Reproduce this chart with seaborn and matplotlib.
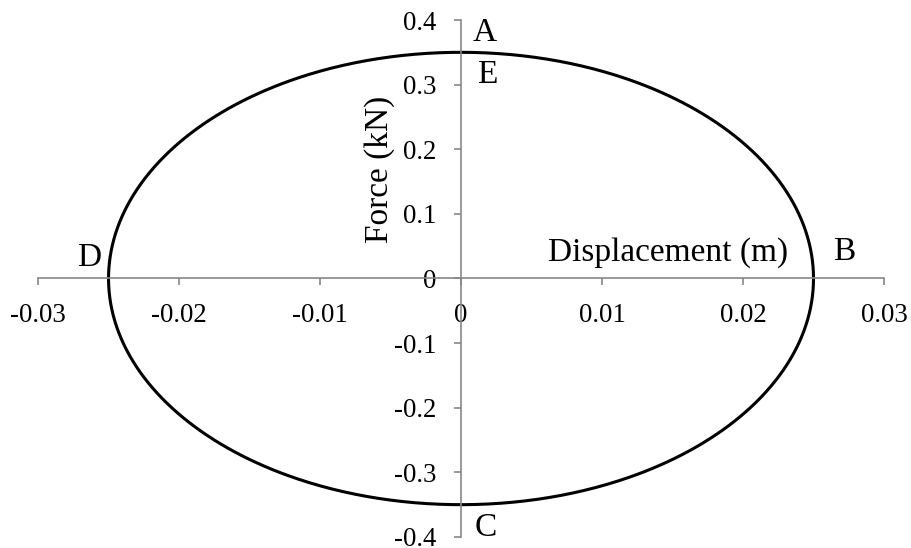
import numpy as np
import pandas as pd
import matplotlib
matplotlib.use("Agg")
import matplotlib.pyplot as plt
import seaborn as sns

# Loop amplitudes
disp_amplitude = 0.025   # m
force_amplitude = 0.35   # kN

x_ticks = [-0.03, -0.02, -0.01, 0, 0.01, 0.02, 0.03]
x_tick_labels = ["-0.03", "-0.02", "-0.01", "0", "0.01", "0.02", "0.03"]
y_ticks = [-0.4, -0.3, -0.2, -0.1, 0, 0.1, 0.2, 0.3, 0.4]
y_tick_labels = ["-0.4", "-0.3", "-0.2", "-0.1", "0", "0.1", "0.2", "0.3", "0.4"]

# Point markers around the loop (left edge / baseline of each letter)
point_labels = ["A", "E", "B", "C", "D"]
point_x = [0.00085, 0.00113, 0.02638, 0.0010, -0.02723]
point_y = [0.368, 0.303, 0.0279, -0.399, 0.0186]

# Closed force-displacement loop
theta = np.linspace(0, 2 * np.pi, 721)
loop = pd.DataFrame({
    "Displacement": disp_amplitude * np.sin(theta),
    "Force": force_amplitude * np.cos(theta),
})

sns.set_style("white")
plt.rcParams["font.family"] = ["Liberation Serif", "DejaVu Serif"]
plt.rcParams["text.color"] = "black"

fig = plt.figure(figsize=(9.12, 5.48), dpi=100)
ax = fig.add_axes([0.0417, 0.0201, 0.9276, 0.9434])

sns.lineplot(data=loop, x="Displacement", y="Force", sort=False,
             color="black", linewidth=2.2, ax=ax, estimator=None)

ax.set_xlim(-0.03, 0.03)
ax.set_ylim(-0.4, 0.4)

axis_color = "#878787"
for side in ["top", "right"]:
    ax.spines[side].set_visible(False)
for side in ["left", "bottom"]:
    ax.spines[side].set_position(("data", 0))
    ax.spines[side].set_color(axis_color)
    ax.spines[side].set_linewidth(1.2)

tick_fs = 19.3
label_fs = 24
ax.set_xticks(x_ticks)
ax.set_xticklabels(x_tick_labels, fontsize=tick_fs)
ax.set_yticks(y_ticks)
ax.set_yticklabels(y_tick_labels, fontsize=tick_fs)
ax.tick_params(axis="both", direction="out", length=5, width=1.2,
               color=axis_color, labelcolor="black",
               bottom=True, left=True, top=False, right=False)
ax.tick_params(axis="x", pad=13)
ax.tick_params(axis="y", pad=13)

ax.set_xlabel("")
ax.set_ylabel("")
ax.text(0.00617, 0.0279, "Displacement (m)", fontsize=label_fs,
        ha="left", va="baseline")
ax.text(-0.0058, 0.1687, "Force (kN)", fontsize=label_fs, rotation=90,
        ha="center", va="center")

for lab, px, py in zip(point_labels, point_x, point_y):
    ax.text(px, py, lab, fontsize=label_fs, ha="left", va="baseline")

ax.patch.set_alpha(0)
fig.savefig("out.png", dpi=100, facecolor="white")
